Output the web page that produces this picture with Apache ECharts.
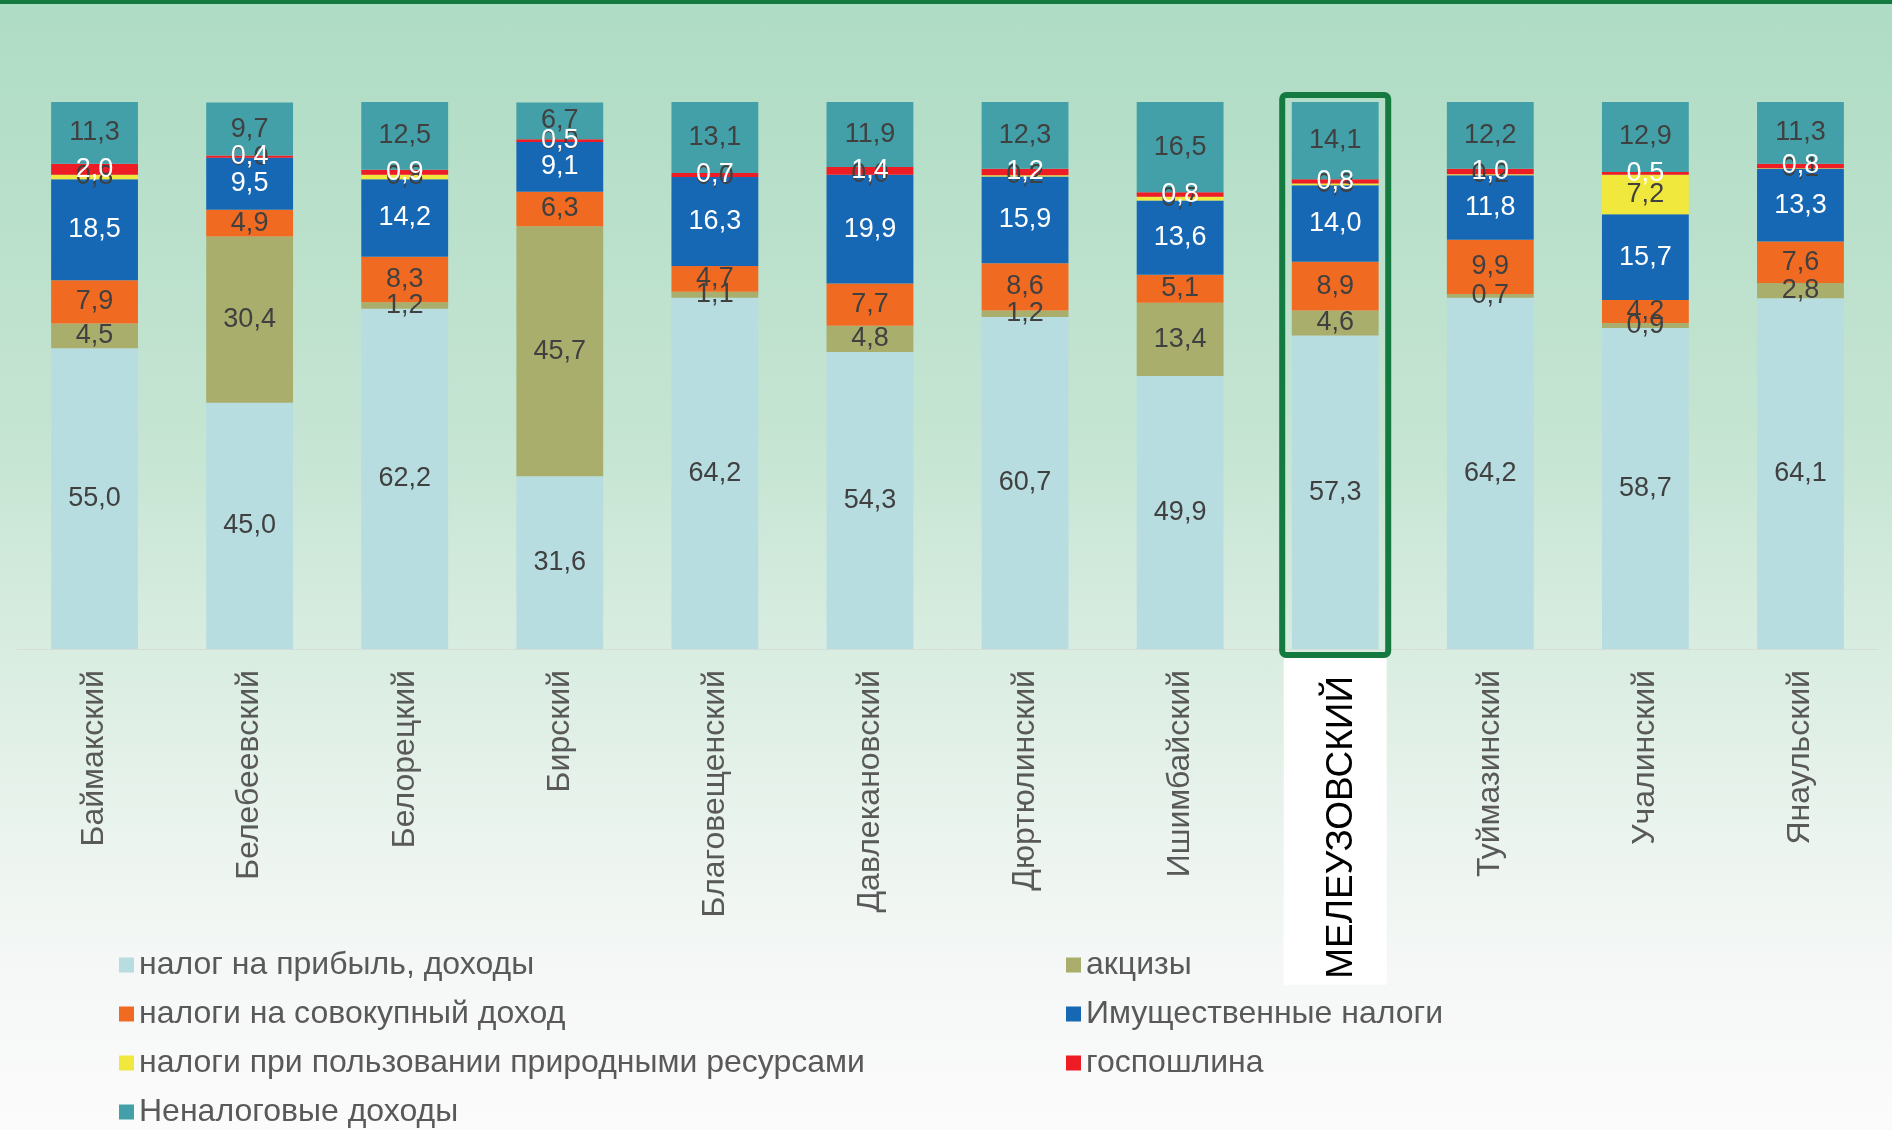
<!DOCTYPE html>
<html>
<head>
<meta charset="utf-8">
<script src="https://cdn.jsdelivr.net/npm/echarts@6/dist/echarts.min.js"></script>
<style>
  html, body { margin: 0; padding: 0; }
  body {
    width: 1892px; height: 1130px; overflow: hidden;
    background: linear-gradient(to bottom, #afdcc4 0%, #b4dec8 10%, #c6e5d3 40%, #d9ede1 58%, #ecf4ef 75%, #f6f8f7 87%, #fafbfa 100%);
  }
  #topline { position: absolute; left: 0; top: 0; width: 1892px; height: 4px; background: #157a3f; }
  #chart { position: absolute; left: 0; top: 0; width: 1892px; height: 1130px; }
</style>
</head>
<body>
<div id="topline"></div>
<div id="chart"></div>
<script>
// Districts and the structure of their own revenues, % of total
const categories = ['Баймакский', 'Белебеевский', 'Белорецкий', 'Бирский', 'Благовещенский',
  'Давлекановский', 'Дюртюлинский', 'Ишимбайский', 'Мелеузовский', 'Туймазинский', 'Учалинский', 'Янаульский'];
const highlighted = 'Мелеузовский';

const profitTax   = [55.0, 45.0, 62.2, 31.6, 64.2, 54.3, 60.7, 49.9, 57.3, 64.2, 58.7, 64.1];
const excise      = [4.5, 30.4, 1.2, 45.7, 1.1, 4.8, 1.2, 13.4, 4.6, 0.7, 0.9, 2.8];
const incomeTax   = [7.9, 4.9, 8.3, 6.3, 4.7, 7.7, 8.6, 5.1, 8.9, 9.9, 4.2, 7.6];
const propertyTax = [18.5, 9.5, 14.2, 9.1, 16.3, 19.9, 15.9, 13.6, 14.0, 11.8, 15.7, 13.3];
const resourceTax = [0.8, 0.0, 0.8, 0.0, 0.0, 0.0, 0.2, 0.7, 0.3, 0.2, 7.2, 0.1];
const stateDuty   = [2.0, 0.4, 0.9, 0.5, 0.7, 1.4, 1.2, 0.8, 0.8, 1.0, 0.5, 0.8];
const nonTax      = [11.3, 9.7, 12.5, 6.7, 13.1, 11.9, 12.3, 16.5, 14.1, 12.2, 12.9, 11.3];

const seriesDefs = [
  { name: 'налог на прибыль, доходы', data: profitTax, color: '#b7dde0', text: '#404040' },
  { name: 'акцизы', data: excise, color: '#a9ae6c', text: '#404040' },
  { name: 'налоги на совокупный доход', data: incomeTax, color: '#f06a22', text: '#404040' },
  { name: 'Имущественные налоги', data: propertyTax, color: '#1768b4', text: '#ffffff' },
  { name: 'налоги при пользовании природными ресурсами', data: resourceTax, color: '#f0e83c', text: '#404040' },
  { name: 'госпошлина', data: stateDuty, color: '#ee1d25', text: '#ffffff' },
  { name: 'Неналоговые доходы', data: nonTax, color: '#43a0a8', text: '#404040' }
];

const FONT = '"Liberation Sans", Arial, sans-serif';
const fmt = v => v.toFixed(1).replace('.', ',');

const chart = echarts.init(document.getElementById('chart'), null, { renderer: 'canvas' });

const legendText = { color: '#595959', fontSize: 32, fontFamily: FONT, lineHeight: 32 };

chart.setOption({
  backgroundColor: 'transparent',
  animation: false,
  grid: { left: 17, right: 14, top: 102, bottom: 481, containLabel: false },
  xAxis: {
    type: 'category',
    data: categories,
    axisTick: { show: false },
    axisLine: { lineStyle: { color: '#d6dcd8', width: 1 } },
    axisLabel: {
      rotate: 90,
      interval: 0,
      margin: 9,
      formatter: v => v === highlighted ? '{h|' + v.toUpperCase() + '}' : '{n|' + v + '}',
      rich: {
        n: { color: '#595959', fontSize: 32, fontFamily: FONT, padding: [0, 12, 0, 0] },
        h: { color: '#000000', fontSize: 37, fontFamily: FONT, backgroundColor: '#ffffff',
             padding: [40, 18, 26, 6] }
      }
    }
  },
  yAxis: { type: 'value', min: 0, max: 100, show: false, splitLine: { show: false } },
  legend: [
    {
      left: 119, top: 949, orient: 'vertical', itemGap: 17, itemWidth: 15, itemHeight: 15,
      icon: 'rect', selectedMode: false, padding: 0, textStyle: legendText,
      data: [seriesDefs[0].name, seriesDefs[2].name, seriesDefs[4].name, seriesDefs[6].name]
    },
    {
      left: 1066, top: 949, orient: 'vertical', itemGap: 17, itemWidth: 15, itemHeight: 15,
      icon: 'rect', selectedMode: false, padding: 0, textStyle: legendText,
      data: [seriesDefs[1].name, seriesDefs[3].name, seriesDefs[5].name]
    }
  ],
  series: seriesDefs.map(s => ({
    name: s.name,
    type: 'bar',
    stack: 'total',
    barWidth: '56%',
    data: s.data,
    itemStyle: { color: s.color },
    label: {
      show: true,
      position: 'inside',
      color: s.text,
      fontSize: 27,
      fontFamily: FONT,
      textBorderWidth: 0,
      formatter: p => fmt(p.value)
    }
  }))
});

// Frame around the highlighted district's column
function drawFrame() {
  const cx = chart.convertToPixel({ xAxisIndex: 0 }, highlighted);
  const yTop = chart.convertToPixel({ yAxisIndex: 0 }, 100);
  const yBottom = chart.convertToPixel({ yAxisIndex: 0 }, 0);
  chart.setOption({
    graphic: [{
      type: 'rect',
      z: 100,
      shape: { x: cx - 53, y: yTop - 7, width: 106, height: (yBottom + 6) - (yTop - 7), r: 4 },
      style: { fill: 'none', stroke: '#157a3f', lineWidth: 6 }
    }]
  });
}
drawFrame();
</script>
</body>
</html>
